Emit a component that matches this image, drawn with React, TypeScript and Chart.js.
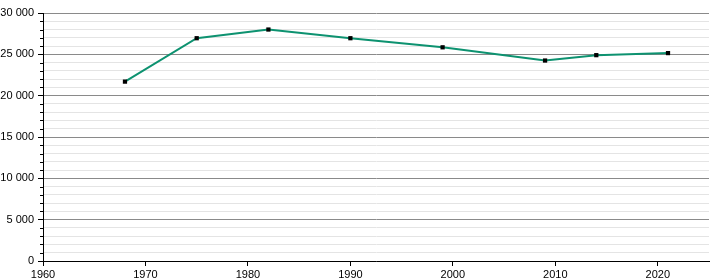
import React, { useEffect, useRef } from "react";
import { Chart, registerables } from "chart.js";

Chart.register(...registerables);

const years = [1968, 1975, 1982, 1990, 1999, 2009, 2014, 2021];
const population = [21700, 26950, 28000, 26950, 25850, 24250, 24900, 25150];
const xMin = 1960;
const xMax = 2025;
const yMin = 0;
const yMax = 30000;

const fmt = (v: number) => {
  const s = String(Math.round(v));
  return s.replace(/\B(?=(\d{3})+(?!\d))/g, " ");
};

const minorTicks = {
  id: "minorTicks",
  afterDraw(chart: any) {
    const y = chart.scales.y;
    const ctx = chart.ctx;
    const left = chart.chartArea.left;
    ctx.save();
    ctx.strokeStyle = "#000";
    ctx.lineWidth = 1;
    for (let v = yMin; v <= yMax; v += 1000) {
      if (v % 5000 === 0) continue;
      const py = Math.round(y.getPixelForValue(v)) + 0.5;
      ctx.beginPath();
      ctx.moveTo(left - 3, py);
      ctx.lineTo(left, py);
      ctx.stroke();
    }
    ctx.restore();
  },
};

export default function App() {
  const ref = useRef<HTMLCanvasElement>(null);
  useEffect(() => {
    document.body.style.margin = "0";
    const font = { family: "'Liberation Sans', Arial, sans-serif", size: 11 };
    const chart = new Chart(ref.current!, {
      type: "line",
      data: {
        datasets: [
          {
            data: years.map((x, i) => ({ x, y: population[i] })),
            borderColor: "#0d9270",
            borderWidth: 2,
            pointStyle: "rect",
            pointRadius: 3,
            pointBackgroundColor: "#000",
            pointBorderColor: "#000",
            pointBorderWidth: 0,
            tension: 0,
          },
        ],
      },
      options: {
        animation: false,
        responsive: false,
        plugins: { legend: { display: false }, tooltip: { enabled: false } },
        layout: { padding: { top: 13, right: 11, left: 0, bottom: 0 } },
        scales: {
          x: {
            type: "linear",
            min: xMin,
            max: xMax,
            ticks: {
              stepSize: 10,
              color: "#000",
              font,
              padding: 2,
              maxRotation: 0,
              callback: (v: any) => (v % 10 === 0 ? String(v) : ""),
            },
            grid: {
              drawOnChartArea: false,
              tickLength: 5,
              tickColor: (c: any) => (c.tick && c.tick.value % 10 === 0 ? "#000" : "rgba(0,0,0,0)"),
            },
            border: { color: "#000" },
            afterFit: (s: any) => { s.height = 19; },
          },
          y: {
            min: yMin,
            max: yMax,
            ticks: {
              stepSize: 1000,
              color: "#000",
              font,
              padding: 4,
              autoSkip: false,
              callback: (v: any) => (v % 5000 === 0 ? fmt(v) : ""),
            },
            grid: {
              color: (c: any) => (c.tick && c.tick.value % 5000 === 0 ? "#8a8a8a" : "#e4e4e4"),
              tickColor: (c: any) => (c.tick && c.tick.value % 5000 === 0 ? "#000" : "rgba(0,0,0,0)"),
              tickLength: 5,
            },
            border: { color: "#000" },
            afterFit: (s: any) => { s.width = 43; },
          },
        },
      },
      plugins: [minorTicks],
    } as any);
    return () => chart.destroy();
  }, []);
  return (
    <div style={{ width: 720, height: 280 }}>
      <canvas ref={ref} width={720} height={280} style={{ display: "block" }} />
    </div>
  );
}
